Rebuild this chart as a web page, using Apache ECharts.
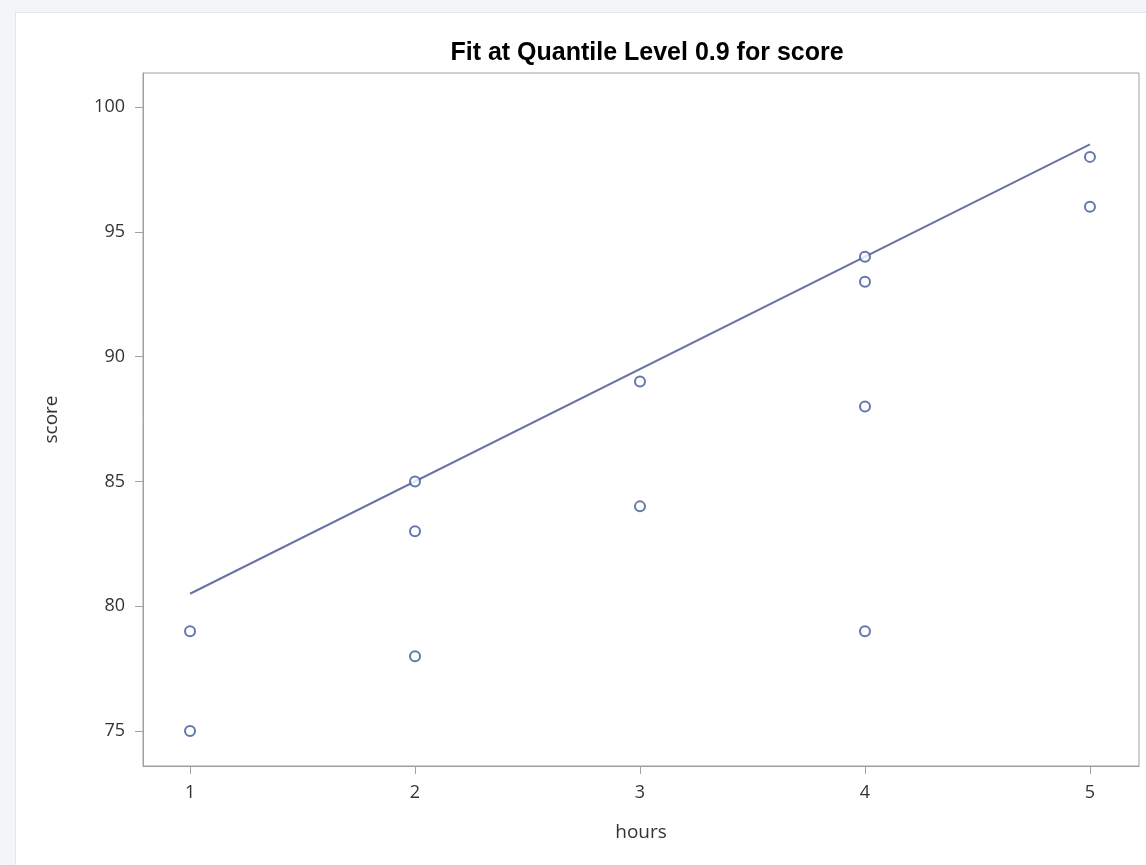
<!DOCTYPE html>
<html>
<head>
<meta charset="utf-8">
<script src="https://cdn.jsdelivr.net/npm/echarts@6/dist/echarts.min.js"></script>
<style>
html,body{margin:0;padding:0;background:#f3f5f8;width:1146px;height:865px;overflow:hidden;}
#panel{position:absolute;left:15px;top:12px;width:1140px;height:860px;background:#fff;border:1px solid #e1e5ec;}
#chart{position:absolute;left:0;top:0;width:1146px;height:865px;}
</style>
</head>
<body>
<div id="panel"></div>
<div id="chart"></div>
<script>
const titleText = 'Fit at Quantile Level 0.9 for score';
const hours = [1, 1, 2, 2, 2, 3, 3, 4, 4, 4, 4, 5, 5];
const scores = [79, 75, 85, 83, 78, 89, 84, 94, 93, 88, 79, 98, 96];
const fitHours = [1, 5];
const fitScores = [80.5, 98.5];
const xTicks = [1, 2, 3, 4, 5];
const yTicks = [75, 80, 85, 90, 95, 100];

const chart = echarts.init(document.getElementById('chart'), null, {renderer: 'canvas'});
const axisColor = '#a0a0a0';
const labelStyle = {color: '#333', fontSize: 18, fontFamily: 'Open Sans, Noto Sans, sans-serif'};
const nameStyle = {color: '#333', fontSize: 19, fontFamily: 'Open Sans, Noto Sans, sans-serif'};
chart.setOption({
  backgroundColor: 'transparent',
  animation: false,
  title: {
    text: titleText,
    left: 642, top: 36, textAlign: 'center',
    textStyle: {fontFamily: 'Liberation Sans, Arial, sans-serif', fontWeight: 'bold', fontSize: 25, color: '#000'}
  },
  grid: {left: 143, top: 73, right: 7, bottom: 99, show: true, borderColor: axisColor, borderWidth: 1, backgroundColor: 'transparent'},
  xAxis: {
    type: 'value', min: 0.791, max: 5.218,
    name: 'hours', nameLocation: 'middle', nameGap: 57,
    nameTextStyle: nameStyle,
    axisLine: {show: true, lineStyle: {color: axisColor, width: 1}},
    axisTick: {show: true, length: 8, lineStyle: {color: axisColor}, customValues: xTicks},
    axisLabel: Object.assign({margin: 18, customValues: xTicks, formatter: v => String(v)}, labelStyle),
    splitLine: {show: false}
  },
  yAxis: {
    type: 'value', min: 73.6, max: 101.36,
    name: 'score', nameLocation: 'middle', nameGap: 82, nameRotate: 90,
    nameTextStyle: nameStyle,
    axisLine: {show: true, lineStyle: {color: axisColor, width: 1}},
    axisTick: {show: true, length: 8, lineStyle: {color: axisColor}, customValues: yTicks},
    axisLabel: Object.assign({margin: 18, customValues: yTicks, formatter: v => String(v)}, labelStyle),
    splitLine: {show: false}
  },
  series: [
    {
      type: 'line',
      data: fitHours.map((h, i) => [h, fitScores[i]]),
      symbol: 'none',
      lineStyle: {color: '#6b73a6', width: 2},
      z: 2
    },
    {
      type: 'scatter',
      data: hours.map((h, i) => [h, scores[i]]),
      symbol: 'circle',
      symbolSize: 10,
      itemStyle: {color: '#ffffff', borderColor: '#3a5599', borderWidth: 2},
      z: 3
    }
  ]
});
</script>
</body>
</html>
